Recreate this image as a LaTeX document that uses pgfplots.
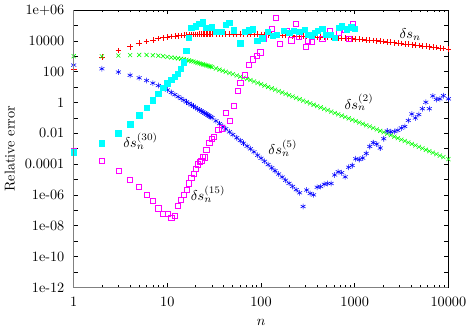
\documentclass[border=0pt]{standalone}
\usepackage{pgfplots}
\usepackage{pgfplotstable}
\pgfplotsset{compat=1.18}

\definecolor{gpred}{rgb}{1,0,0}
\definecolor{gpgreen}{rgb}{0,1,0}
\definecolor{gpblue}{rgb}{0,0,1}
\definecolor{gpmagenta}{rgb}{1,0,1}
\definecolor{gpcyan}{rgb}{0,1,1}

% n, delta s_n, delta s_n^(2), delta s_n^(5)
\pgfplotstableread{
n r g b
1 1.55e2 1.02e3 2.7e2
2 8.7e2 1.0e3 1.55e2
3 2.34e3 1.12e3 9.5e1
4 4.17e3 1.2e3 5.9e1
5 7.1e3 1.23e3 4.0e1
6 9.1e3 1.23e3 2.7e1
7 1.17e4 1.17e3 1.82e1
8 1.41e4 1.1e3 1.26e1
9 1.62e4 1.02e3 8.9
10 1.82e4 9.1e2 6.5
11 1.95e4 8.5e2 4.5
12 2.09e4 7.9e2 3.26
13 2.19e4 7.4e2 2.4
14 2.29e4 6.9e2 1.82
15 2.4e4 6.5e2 1.41
16 2.45e4 5.9e2 1.1
17 2.51e4 5.4e2 0.88
18 2.57e4 4.9e2 0.71
19 2.6e4 4.6e2 0.58
20 2.63e4 4.2e2 0.48
21 2.66e4 3.8e2 0.4
22 2.68e4 3.55e2 0.334
23 2.7e4 3.2e2 0.281
24 2.72e4 3.0e2 0.24
25 2.73e4 2.8e2 0.206
26 2.75e4 2.6e2 0.178
27 2.76e4 2.45e2 0.155
28 2.77e4 2.3e2 0.135
29 2.78e4 2.15e2 0.118
30 2.79e4 2.0e2 0.104
33 2.8e4 1.63e2 0.0649
36 2.81e4 1.37e2 0.0426
39 2.82e4 1.16e2 0.0286
42 2.82e4 1.0e2 0.0198
46 2.82e4 8.3e1 0.01256
50 2.82e4 7.0e1 0.00834
55 2.81e4 5.7e1 0.00522
60 2.8e4 4.8e1 0.00339
65 2.78e4 4.1e1 0.00228
71 2.76e4 3.4e1 0.001476
77 2.73e4 2.9e1 9.9e-4
84 2.7e4 2.34e1 6.3e-4
92 2.67e4 1.88e1 3.81e-4
100 2.63e4 1.55e1 2.43e-4
109 2.59e4 1.26e1 1.53e-4
119 2.54e4 1.02e1 9.4e-5
130 2.49e4 8.3 5.8e-5
141 2.44e4 6.9 3.76e-5
154 2.39e4 5.5 2.3e-5
168 2.34e4 4.5 1.45e-5
183 2.29e4 3.7 9.1e-6
199 2.24e4 3.0 5.7e-6
217 2.18e4 2.47 3.6e-6
237 2.13e4 2.0 2.2e-6
258 2.07e4 1.63 1.39e-6
281 2.02e4 1.33 1.8e-7
307 1.97e4 1.08 2.1e-6
334 1.92e4 0.885 1.26e-6
364 1.87e4 0.72 1.02e-6
397 1.82e4 0.59 3.2e-6
433 1.77e4 0.48 3.5e-6
472 1.73e4 0.39 5.0e-6
514 1.69e4 0.32 5.6e-6
560 1.64e4 0.26 5.6e-6
611 1.6e4 0.21 2.0e-5
666 1.56e4 0.173 3.2e-5
726 1.51e4 0.141 2.8e-5
791 1.47e4 0.115 1.5e-5
862 1.42e4 0.0935 6.3e-5
940 1.38e4 0.0766 8.3e-5
1024 1.33e4 0.0625 2.24e-4
1117 1.28e4 0.0508 2.0e-4
1217 1.22e4 0.0415 2.5e-4
1327 1.17e4 0.0337 5.0e-4
1446 1.12e4 0.0279 1.41e-3
1576 1.07e4 0.0223 2.5e-3
1718 1.02e4 0.018 2.0e-3
1873 9.7e3 0.0145 1.12e-3
2041 9.2e3 0.0117 4.5e-3
2225 8.6e3 0.0094 1.41e-2
2425 8.1e3 0.00755 1.26e-2
2644 7.7e3 0.0061 1.32e-2
2881 7.2e3 0.00489 1.58e-2
3141 6.8e3 0.00394 2.24e-2
3423 6.4e3 0.00318 2.8e-2
3731 6.0e3 0.00255 6.9e-2
4067 5.7e3 0.00206 0.182
4433 5.3e3 0.00165 0.1
4832 5.0e3 0.00133 0.166
5267 4.7e3 0.00107 0.4
5741 4.5e3 8.6e-4 1.05
6258 4.2e3 6.95e-4 0.4
6821 3.9e3 5.57e-4 2.7
7435 3.7e3 4.5e-4 1.6
8104 3.45e3 3.6e-4 1.74
8833 3.2e3 2.91e-4 2.8
10000 2.95e3 2.14e-4 1.74
}\curves

% delta s_n^(15)
\pgfplotstableread{
n v
1 7.6e-4
2 1.58e-4
3 3.6e-5
4 1.02e-5
5 3.2e-6
6 1.02e-6
7 4.0e-7
8 1.38e-7
9 6.2e-8
10 6.0e-8
11 3.3e-8
12 4.7e-8
13 2.0e-7
14 4.9e-7
15 1.02e-6
16 2.2e-6
17 5.8e-6
18 1.23e-5
19 2.5e-5
20 5.1e-5
21 9.8e-5
22 1.35e-4
23 1.74e-4
24 3.2e-4
25 2.8e-4
26 8.3e-4
28 2.6e-3
30 4.2e-3
31 6.3e-3
35 1.82e-2
38 2.14e-2
42 0.209
46 6.9e-2
51 0.59
56 5.75
60 19
67 66
74 288
81 646
90 1.05e3
98 1.82e3
107 1.48e4
130 6.5e4
145 3.1e5
158 6.2e3
190 4.8e4
210 1.1e4
234 1.29e5
255 1.82e4
300 4.4e3
318 1.1e4
346 8.7e3
451 1.29e4
547 4.4e4
674 3.4e4
776 5.6e4
872 1.41e4
962 1.32e5
}\fifteen

% delta s_n^(30)
\pgfplotstableread{
n v
1 5.9e-4
2 2.24e-3
3 1.0e-2
4 3.8e-2
5 0.145
6 0.47
7 1.41
8 3.8
9 9.3
10 17.4
11 29.5
12 48
13 74
14 158
15 417
16 2.34e3
17 1.62e4
18 7.1e4
20 9.1e4
22 1.29e5
24 1.7e5
26 7.1e4
30 7.9e4
33 4.0e4
38 4.0e4
42 1.15e5
46 1.48e5
51 4.8e4
60 6.8e3
67 4.0e4
74 4.8e4
82 5.6e4
91 1.0e4
103 1.48e4
118 4.0e4
133 2.1e4
148 2.6e4
174 4.4e4
201 3.4e4
225 4.4e4
256 4.0e4
294 5.5e4
318 2.6e4
346 2.1e4
375 3.4e4
406 4.4e4
451 6.2e4
497 2.6e4
547 2.6e4
608 1.62e4
674 7.1e4
732 9.1e4
818 5.6e4
916 7.9e4
997 6.3e4
}\thirty

\begin{document}
\begin{tikzpicture}
\begin{axis}[
    scale only axis,
    width=262.8pt, height=194.5pt,
    xmode=log, ymode=log,
    xmin=1, xmax=10000, ymin=1e-12, ymax=1e6,
    xtick={1,10,100,1000,10000},
    xticklabels={1,10,100,1000,10000},
    ytick={1e-12,1e-11,1e-10,1e-9,1e-8,1e-7,1e-6,1e-5,1e-4,1e-3,1e-2,1e-1,1,1e1,1e2,1e3,1e4,1e5,1e6},
    yticklabels={1e-12,,1e-10,,1e-08,,1e-06,,0.0001,,0.01,,1,,100,,10000,,1e+06},
    minor y tick style={draw=none},
    tick align=inside,
    major tick length=2.8pt,
    minor tick length=1.4pt,
    tick style={black, line width=0.5pt},
    axis line style={black, line width=0.7pt},
    xticklabel style={yshift=-3pt},
    yticklabel style={xshift=-3pt},
    xlabel={$n$},
    xlabel style={yshift=-2pt},
    ylabel={Relative error},
    every axis plot/.append style={only marks, line width=0.4pt},
    extra description/.code={
        \draw[gray, line width=0.8pt] (rel axis cs:0,1) -- (rel axis cs:0,0) -- (rel axis cs:1,0);
    },
]
\addplot[gpred, mark=+, mark size=2pt] table[x=n, y=r] {\curves};
\addplot[gpgreen, mark=x, mark size=2pt] table[x=n, y=g] {\curves};
\addplot[gpblue, mark=asterisk, mark size=2pt] table[x=n, y=b] {\curves};
\addplot[gpmagenta, mark=square, mark size=1.8pt] table[x=n, y=v] {\fifteen};
\addplot[gpcyan, mark=square*, mark size=1.9pt, mark options={fill=gpcyan}] table[x=n, y=v] {\thirty};

\node at (axis cs:3910,2.57e4) {$\delta s_n$};
\node at (axis cs:1112,1.0) {$\delta s_n^{(2)}$};
\node at (axis cs:171,1.1e-3) {$\delta s_n^{(5)}$};
\node at (axis cs:27.2,1.17e-6) {$\delta s_n^{(15)}$};
\node at (axis cs:5.18,3.1e-3) {$\delta s_n^{(30)}$};
\end{axis}
\end{tikzpicture}
\end{document}
